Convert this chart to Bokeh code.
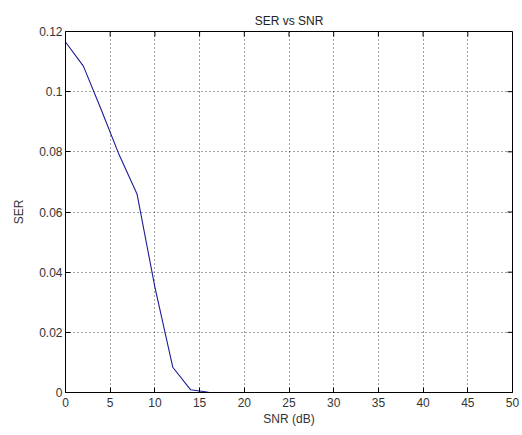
import math
from bokeh.plotting import figure
from bokeh.models import Range1d, FixedTicker
from bokeh.embed import file_html
from bokeh.resources import INLINE

# data
snr_db = [0, 2, 4, 6, 8, 10, 12, 14, 16]
ser = [0.1165, 0.1085, 0.094, 0.079, 0.066, 0.035, 0.0084, 0.0009, 0.0001]

x_ticks = [0, 5, 10, 15, 20, 25, 30, 35, 40, 45, 50]
y_ticks = [0, 0.02, 0.04, 0.06, 0.08, 0.1, 0.12]
y_tick_labels = ["0", "0.02", "0.04", "0.06", "0.08", "0.1", "0.12"]

FONT = "Liberation Sans"
X_MIN, X_MAX = 0, 50
Y_MIN, Y_MAX = 0, 0.12

p = figure(width=522, height=435, output_backend="svg", toolbar_location=None,
           x_range=Range1d(X_MIN, X_MAX), y_range=Range1d(Y_MIN, Y_MAX),
           title="SER vs SNR", min_border_left=65, min_border_right=10,
           min_border_top=31, min_border_bottom=43)

p.line(snr_db, ser, line_color="#1c1c96", line_width=1.1)

# mirrored ticks on top and right (inward)
p.ray(x=x_ticks, y=[Y_MAX] * len(x_ticks), angle=-math.pi / 2, length=5,
      length_units="screen", line_color="black", line_width=1)
p.ray(x=[X_MAX] * len(y_ticks), y=y_ticks, angle=math.pi, length=5,
      length_units="screen", line_color="black", line_width=1)

p.background_fill_color = "white"
p.border_fill_color = "white"
p.outline_line_color = "black"
p.outline_line_width = 1

p.title.align = "center"
p.title.text_font = FONT
p.title.text_font_size = "12px"
p.title.text_font_style = "normal"
p.title.text_color = "#222222"
p.title.offset = 0
p.title.standoff = 7

for ax in (p.xaxis[0], p.yaxis[0]):
    ax.major_label_text_font = FONT
    ax.major_label_text_font_size = "12px"
    ax.major_label_text_color = "#333333"
    ax.axis_label_text_font = FONT
    ax.axis_label_text_font_size = "12px"
    ax.axis_label_text_font_style = "normal"
    ax.axis_label_text_color = "#333333"
    ax.major_tick_in = 5
    ax.major_tick_out = 0
    ax.minor_tick_in = 0
    ax.minor_tick_out = 0
    ax.axis_line_color = "black"
    ax.major_tick_line_color = "black"

p.xaxis[0].ticker = FixedTicker(ticks=x_ticks)
p.yaxis[0].ticker = FixedTicker(ticks=y_ticks)
p.yaxis[0].major_label_overrides = {t: l for t, l in zip(y_ticks, y_tick_labels)}
p.xaxis[0].axis_label = "SNR (dB)"
p.yaxis[0].axis_label = "SER"
p.xaxis[0].major_label_standoff = 5
p.yaxis[0].major_label_standoff = 3
p.xaxis[0].axis_label_standoff = 2
p.yaxis[0].axis_label_standoff = 10

p.xgrid[0].ticker = FixedTicker(ticks=x_ticks)
p.ygrid[0].ticker = FixedTicker(ticks=y_ticks)
for g in (p.xgrid[0], p.ygrid[0]):
    g.grid_line_color = "black"
    g.grid_line_dash = "1 3"
    g.grid_line_alpha = 0.75

open("out.html", "w").write(file_html(p, INLINE))
